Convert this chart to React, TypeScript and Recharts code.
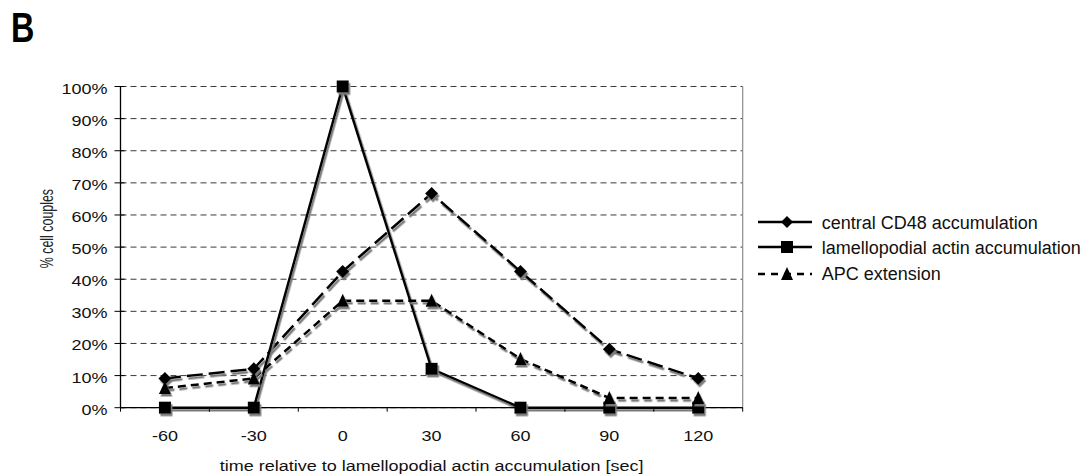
import React from 'react';
import { LineChart, Line, XAxis, YAxis, CartesianGrid, ReferenceLine, Label } from 'recharts';

const times = [-60, -30, 0, 30, 60, 90, 120];
const cd48Values = [9.1, 12.1, 42.4, 66.7, 42.4, 18.2, 9.1];
const actinValues = [0, 0, 100, 12.1, 0, 0, 0];
const apcValues = [6.1, 9.1, 33.3, 33.3, 15.2, 3.0, 3.0];
const yTicks = [0, 10, 20, 30, 40, 50, 60, 70, 80, 90, 100];
const xTickLabels = ['-60', '-30', '0', '30', '60', '90', '120'];
const xBandEdges = [-75, -45, -15, 15, 45, 75, 105, 135];
const seriesNames = ['central CD48 accumulation', 'lamellopodial actin accumulation', 'APC extension'];
const xTitle = 'time relative to lamellopodial actin accumulation [sec]';
const yTitle = '% cell couples';
const panelLetter = 'B';

const data = times.map((t, i) => ({
  t,
  cd48: cd48Values[i],
  actin: actinValues[i],
  apc: apcValues[i],
}));

const FONT = '"Liberation Sans", Arial, Helvetica, sans-serif';
const INK = '#111';

const renderDiamond = (p: any) => {
  const { cx, cy, index } = p;
  if (cx == null || cy == null) return <g key={`d${index}`} />;
  const r = 6.5;
  return (
    <polygon
      key={`d${index}`}
      points={`${cx},${cy - r} ${cx + r},${cy} ${cx},${cy + r} ${cx - r},${cy}`}
      fill="#000"
      filter="url(#shadow)"
    />
  );
};

const renderSquare = (p: any) => {
  const { cx, cy, index } = p;
  if (cx == null || cy == null) return <g key={`s${index}`} />;
  const h = 6;
  return <rect key={`s${index}`} x={cx - h} y={cy - h} width={2 * h} height={2 * h} fill="#000" filter="url(#shadow)" />;
};

const renderTriangle = (p: any) => {
  const { cx, cy, index } = p;
  if (cx == null || cy == null) return <g key={`t${index}`} />;
  return (
    <polygon
      key={`t${index}`}
      points={`${cx},${cy - 7} ${cx + 6},${cy + 6} ${cx - 6},${cy + 6}`}
      fill="#000"
      filter="url(#shadow)"
    />
  );
};

const XTick = (props: any) => {
  const { x, y, payload } = props;
  const v = payload.value;
  const i = times.indexOf(v);
  if (i < 0) {
    return <line x1={x} x2={x} y1={y} y2={y + 4} stroke="#000" strokeWidth={1} />;
  }
  return (
    <text
      transform={`translate(${x},${y + 33.3}) scale(1,0.86)`}
      textAnchor="middle"
      fontSize={18}
      fontFamily={FONT}
      fill={INK}
    >
      {xTickLabels[i]}
    </text>
  );
};

const YTick = (props: any) => {
  const { x, y, payload } = props;
  return (
    <g>
      <line x1={x - 6} x2={x + 4} y1={y} y2={y} stroke="#000" strokeWidth={1} />
      <text
        transform={`translate(${x - 13},${y + 7}) scale(1,0.86)`}
        textAnchor="end"
        fontSize={18}
        fontFamily={FONT}
        fill={INK}
      >
        {`${payload.value}%`}
      </text>
    </g>
  );
};

const XTitleLabel = (props: any) => {
  const vb = props.viewBox || {};
  return (
    <text
      transform={`translate(${vb.x + vb.width / 2},${vb.y + 63.3}) scale(1,0.86)`}
      textAnchor="middle"
      fontSize={18}
      fontFamily={FONT}
      fill={INK}
    >
      {xTitle}
    </text>
  );
};

const YTitleLabel = (props: any) => {
  const vb = props.viewBox || {};
  return (
    <text
      transform={`translate(${vb.x + 53},${vb.y + vb.height / 2 - 18.5}) rotate(-90) scale(0.69,1)`}
      textAnchor="middle"
      fontSize={18}
      fontFamily={FONT}
      fill="#222"
    >
      {yTitle}
    </text>
  );
};

const LegendIcon = ({ kind, y }: { kind: number; y: number }) => {
  const x1 = 758;
  const x2 = 812;
  const mx = 787;
  return (
    <g>
      <line
        x1={x1}
        x2={x2}
        y1={y}
        y2={y}
        stroke="#000"
        strokeWidth={2.5}
        strokeDasharray={kind === 2 ? '7 6' : undefined}
      />
      {kind === 0 && <polygon points={`${mx},${y - 6} ${mx + 6},${y} ${mx},${y + 6} ${mx - 6},${y}`} fill="#000" />}
      {kind === 1 && <rect x={mx - 6} y={y - 6} width={12} height={12} fill="#000" />}
      {kind === 2 && <polygon points={`${mx},${y - 7} ${mx + 6},${y + 6} ${mx - 6},${y + 6}`} fill="#000" />}
    </g>
  );
};

const legendRows = [
  { iconY: 222, textY: 228.5 },
  { iconY: 247, textY: 253.5 },
  { iconY: 274, textY: 280 },
];

export default function App() {
  return (
    <div style={{ position: 'absolute', left: 0, top: 0, width: 1089, height: 476, background: '#fff' }}>
      <svg width={0} height={0} style={{ position: 'absolute' }}>
        <defs>
          <filter id="shadow" filterUnits="userSpaceOnUse" x={0} y={0} width={1089} height={476}>
            <feDropShadow dx={1.5} dy={2.5} stdDeviation={0.6} floodColor="#7a7a7a" floodOpacity={1} />
          </filter>
        </defs>
      </svg>
      <LineChart
        width={1089}
        height={476}
        data={data}
        margin={{ top: 86.5, right: 346.3, bottom: 0, left: 0 }}
      >
        <CartesianGrid vertical={false} stroke="#3a3a3a" strokeDasharray="6 4" strokeWidth={1} />
        <XAxis
          dataKey="t"
          type="number"
          domain={[-75, 135]}
          ticks={[...xBandEdges, ...times]}
          interval={0}
          tickSize={0}
          tickMargin={0}
          tickLine={false}
          axisLine={{ stroke: '#000', strokeWidth: 1.3 }}
          height={68.3}
          tick={<XTick />}
          allowDataOverflow
        >
          <Label content={<XTitleLabel />} />
        </XAxis>
        <YAxis
          type="number"
          domain={[0, 100]}
          ticks={yTicks}
          interval={0}
          width={120.5}
          tickSize={0}
          tickMargin={0}
          tickLine={false}
          axisLine={{ stroke: '#000', strokeWidth: 1.3 }}
          tick={<YTick />}
        >
          <Label content={<YTitleLabel />} />
        </YAxis>
        <ReferenceLine x={135} stroke="#8c8c8c" strokeWidth={1.2} />
        <Line
          dataKey="cd48"
          name={seriesNames[0]}
          stroke="#000"
          strokeWidth={2.5}
          strokeDasharray="16 6"
          dot={renderDiamond}
          activeDot={false}
          isAnimationActive={false}
          filter="url(#shadow)"
        />
        <Line
          dataKey="actin"
          name={seriesNames[1]}
          stroke="#000"
          strokeWidth={2.5}
          dot={renderSquare}
          activeDot={false}
          isAnimationActive={false}
          filter="url(#shadow)"
        />
        <Line
          dataKey="apc"
          name={seriesNames[2]}
          stroke="#000"
          strokeWidth={2.5}
          strokeDasharray="8 5"
          dot={renderTriangle}
          activeDot={false}
          isAnimationActive={false}
          filter="url(#shadow)"
        />
      </LineChart>
      <svg
        width={1089}
        height={476}
        style={{ position: 'absolute', left: 0, top: 0, pointerEvents: 'none' }}
      >
        <text
          transform="translate(11,41.7) scale(0.77,1)"
          fontSize={42}
          fontWeight="bold"
          fontFamily={FONT}
          fill="#000"
        >
          {panelLetter}
        </text>
        {seriesNames.map((name, i) => (
          <g key={name}>
            <LegendIcon kind={i} y={legendRows[i].iconY} />
            <text x={821.7} y={legendRows[i].textY} fontSize={18} fontFamily={FONT} fill={INK}>
              {name}
            </text>
          </g>
        ))}
      </svg>
    </div>
  );
}
